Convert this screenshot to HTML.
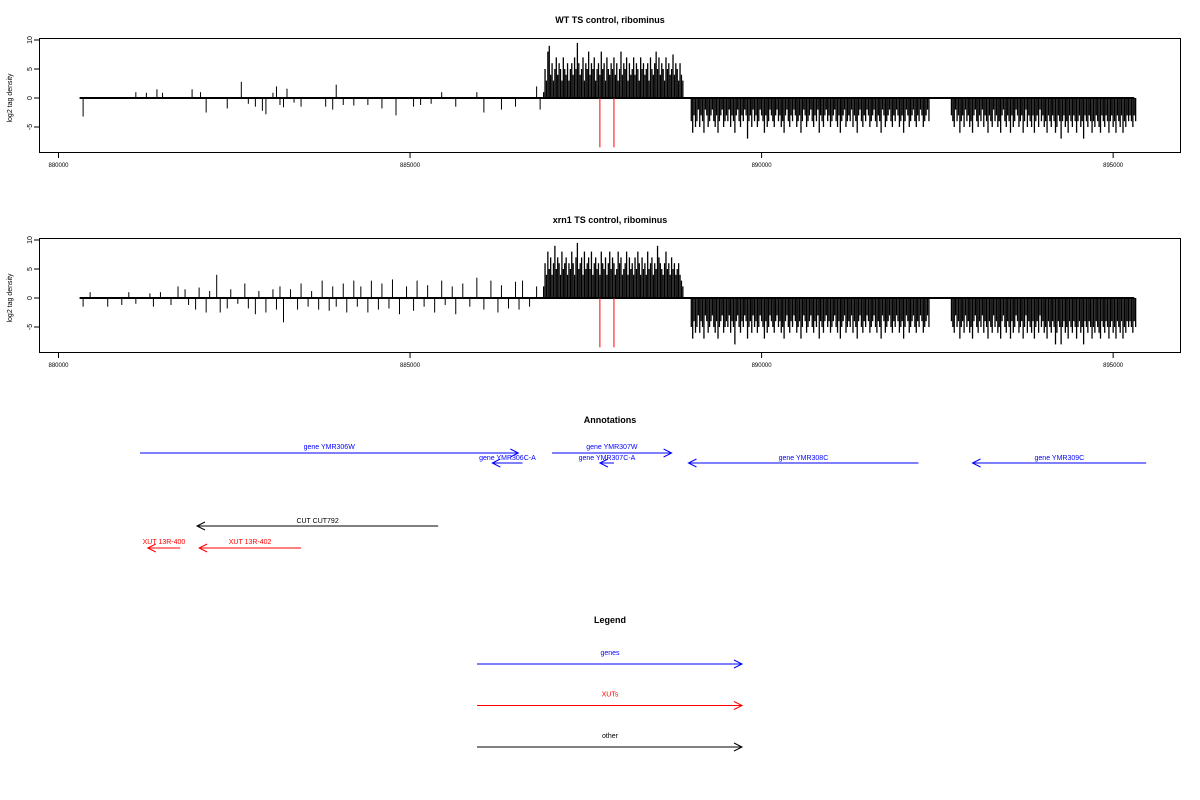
<!DOCTYPE html>
<html><head><meta charset="utf-8"><style>
body{margin:0;background:#fff}
svg{display:block;font-family:"Liberation Sans",sans-serif}
</style></head><body>
<svg id="s" width="1200" height="800" viewBox="0 0 1200 800" xmlns="http://www.w3.org/2000/svg"></svg>
<script>
// ---- data ----
const xTicks=[880000,885000,890000,895000];
const yTicks=[-5,0,5,10];
const dataStart=880300, dataEnd=895300;
const redMarks=[887700,887900];
const redDepth=-8.5;
const binSize=20;
const wtSparse=[[880350,-3.2],[881100,1],[881250,0.9],[881400,1.5],[881480,0.9],[881900,1.5],[882020,1],[882100,-2.5],[882400,-1.8],[882600,2.8],[882700,-1],[882800,-1.5],[882900,-2.2],[882950,-2.8],[883050,0.9],[883100,2],[883150,-1.2],[883200,-1.6],[883250,1.6],[883350,-0.8],[883450,-1.5],[883800,-1.5],[883900,-2],[883950,2.3],[884050,-1.2],[884200,-1.3],[884400,-1.2],[884600,-1.8],[884800,-3],[885050,-1.5],[885150,-1.2],[885300,-1],[885450,1],[885650,-1.5],[885950,1],[886050,-2.5],[886300,-2],[886500,-1.5],[886800,2],[886850,-2]];
const wtPosStart=886900;
const wtPos=[1,5,3,8,9,4,6,3,5,7,4,6,5,3,7,5,4,6,3,5,6,4,7,5,9.5,6,4,5,7,3,6,5,8,4,6,5,7,3,5,6,4,8,5,6,3,7,5,4,6,5,7,4,6,3,5,8,4,6,5,7,3,6,4,5,7,4,6,5,3,7,5,6,4,5,6,3,7,5,4,6,8,5,7,4,6,5,3,7,5,6,4,5,7.5,4,6,5,3,6,4,3];
const wtNeg1Start=889000;
const wtNeg1=[-4,-6,-3,-5,-4,-2,-5,-3,-4,-6,-2,-3,-5,-4,-3,-2,-4,-5,-3,-6,-4,-3,-2,-5,-4,-3,-4,-2,-5,-3,-4,-6,-3,-2,-4,-5,-3,-4,-2,-3,-7,-4,-3,-5,-2,-4,-3,-5,-4,-2,-3,-4,-6,-3,-5,-4,-2,-3,-4,-5,-3,-2,-4,-3,-5,-4,-6,-3,-2,-4,-5,-3,-4,-2,-3,-5,-4,-3,-6,-4,-2,-3,-5,-4,-3,-2,-4,-5,-3,-4,-2,-6,-3,-4,-5,-3,-2,-4,-3,-5,-4,-3,-2,-4,-5,-3,-6,-4,-3,-2,-5,-4,-3,-4,-2,-5,-3,-4,-6,-3,-2,-4,-5,-3,-4,-2,-3,-5,-4,-3,-2,-4,-5,-3,-4,-6,-2,-3,-5,-4,-3,-2,-4,-5,-3,-4,-2,-3,-5,-4,-3,-6,-4,-2,-3,-5,-4,-3,-2,-4,-5,-3,-4,-2,-3,-5,-4,-3,-2,-4];
const wtNeg2Start=892700;
const wtNeg2=[-3,-4,-5,-2,-4,-3,-6,-4,-3,-5,-2,-4,-3,-5,-4,-6,-3,-2,-4,-5,-3,-4,-2,-5,-3,-4,-6,-3,-4,-5,-2,-4,-3,-5,-4,-6,-3,-2,-4,-5,-3,-4,-6,-3,-5,-4,-2,-3,-5,-4,-3,-6,-4,-2,-5,-3,-4,-5,-3,-6,-4,-3,-5,-2,-4,-3,-5,-4,-6,-3,-4,-5,-3,-4,-6,-5,-3,-4,-7,-4,-3,-5,-4,-6,-3,-4,-5,-3,-4,-6,-4,-3,-5,-4,-7,-3,-4,-5,-3,-4,-6,-4,-5,-3,-4,-5,-6,-3,-4,-5,-3,-4,-6,-4,-3,-5,-4,-6,-3,-4,-5,-3,-6,-4,-5,-3,-4,-3,-4,-5,-3,-4];
const xrnSparse=[[880350,-1.5],[880450,1],[880700,-1.5],[880900,-1.2],[881000,1],[881100,-1],[881300,0.8],[881350,-1.5],[881450,1],[881600,-1.2],[881700,2],[881800,1.5],[881850,-1.2],[881950,-2],[882000,1.8],[882100,-2.5],[882150,1.2],[882250,4],[882300,-2.5],[882400,-1.8],[882450,1.5],[882550,-1],[882650,2.5],[882700,-1.8],[882800,-2.8],[882850,1.2],[882950,-2.5],[883050,1.5],[883100,-2],[883150,2],[883200,-4.2],[883300,1.5],[883400,-2],[883450,2.5],[883550,-1.5],[883600,1.2],[883700,-2],[883750,3],[883850,-2.2],[883900,2],[883950,-1.5],[884050,2.5],[884100,-2.5],[884200,3],[884250,-1.5],[884300,2],[884400,-2.5],[884450,3],[884550,-2],[884600,2.5],[884700,-1.8],[884750,3.2],[884850,-2.8],[884950,2],[885050,-2.2],[885100,3],[885200,-1.5],[885250,2.2],[885350,-2.5],[885450,3],[885500,-1.2],[885600,2],[885650,-2.8],[885750,2.5],[885850,-1.5],[885950,3.5],[886050,-2],[886150,3],[886250,-2.5],[886300,2.2],[886400,-1.8],[886500,2.8],[886550,-2],[886600,3],[886700,-1.5],[886800,2]];
const xrnPos=[2,6,4,8,5,7,4,6,9,5,7,6,4,8,5,6,7,4,6,5,8,6,4,7,9.5,5,6,7,4,8,5,6,7,5,8,4,6,7,5,6,4,8,6,5,7,4,6,8,5,7,6,4,5,8,6,7,4,5,6,8,4,7,5,6,4,7,5,8,6,4,7,5,6,4,8,5,6,7,4,6,5,9,7,6,5,4,6,8,5,6,4,7,5,6,4,5,6,4,3,2];
const xrnNeg1=[-5,-7,-4,-6,-5,-3,-6,-4,-5,-7,-3,-4,-6,-5,-4,-3,-5,-6,-4,-7,-5,-4,-3,-6,-5,-4,-5,-3,-6,-4,-5,-8,-4,-3,-5,-6,-4,-5,-3,-4,-7,-5,-4,-6,-3,-5,-4,-6,-5,-3,-4,-5,-7,-4,-6,-5,-3,-4,-5,-6,-4,-3,-5,-4,-6,-5,-7,-4,-3,-5,-6,-4,-5,-3,-4,-6,-5,-4,-7,-5,-3,-4,-6,-5,-4,-3,-5,-6,-4,-5,-3,-7,-4,-5,-6,-4,-3,-5,-4,-6,-5,-4,-3,-5,-6,-4,-7,-5,-4,-3,-6,-5,-4,-5,-3,-6,-4,-5,-7,-4,-3,-5,-6,-4,-5,-3,-4,-6,-5,-4,-3,-5,-6,-4,-5,-7,-3,-4,-6,-5,-4,-3,-5,-6,-4,-5,-3,-4,-6,-5,-4,-7,-5,-3,-4,-6,-5,-4,-3,-5,-6,-4,-5,-3,-4,-6,-5,-4,-3,-5];
const xrnNeg2=[-4,-5,-6,-3,-5,-4,-7,-5,-4,-6,-3,-5,-4,-6,-5,-7,-4,-3,-5,-6,-4,-5,-3,-6,-4,-5,-7,-4,-5,-6,-3,-5,-4,-6,-5,-7,-4,-3,-5,-6,-4,-5,-7,-4,-6,-5,-3,-4,-6,-5,-4,-7,-5,-3,-6,-4,-5,-6,-4,-7,-5,-4,-6,-3,-5,-4,-6,-5,-7,-4,-5,-6,-4,-5,-8,-6,-4,-5,-8,-5,-4,-6,-5,-7,-4,-5,-6,-4,-5,-7,-5,-4,-6,-5,-8,-4,-5,-6,-4,-5,-7,-5,-6,-4,-5,-6,-7,-4,-5,-6,-4,-5,-7,-5,-4,-6,-5,-7,-4,-5,-6,-4,-7,-5,-6,-4,-5,-4,-5,-6,-4,-5];
const annotations=[
 ["gene YMR306W",881160,886540,453,447,"#00f"],
 ["gene YMR306C-A",886600,886170,463,458,"#00f"],
 ["gene YMR307W",887020,888720,453,447,"#00f"],
 ["gene YMR307C-A",887900,887700,463,458,"#00f"],
 ["gene YMR308C",892230,888960,463,458,"#00f"],
 ["gene YMR309C",895470,893000,463,458,"#00f"],
 ["CUT CUT792",885400,881970,526,521,"#000"],
 ["XUT 13R-400",881730,881270,548,542,"#f00"],
 ["XUT 13R-402",883450,882000,548,542,"#f00"]];
const legendItems=[["genes","#00f"],["XUTs","#f00"],["other","#000"]];

// ---- drawing ----
const NS="http://www.w3.org/2000/svg", svg=document.getElementById('s');
function mk(t,a,p){const e=document.createElementNS(NS,t);for(const k in a)e.setAttribute(k,a[k]);(p||svg).appendChild(e);return e;}
const xs=v=>58.5+(v-880000)*0.07031;
function panel(oy,title,sparse,pos,neg1,neg2,name){
  const g=mk('g',{});
  
  
  const ys=v=>oy+98-v*5.8;
  const t=mk('text',{x:610,y:oy+23,'text-anchor':'middle','font-size':9,'font-weight':'bold'},g);t.textContent=title;
  
  const fr=mk('rect',{x:39.5,y:oy+38.5,width:1141,height:114,fill:'none',stroke:'#000','stroke-width':1},g);
  
  xTicks.forEach(v=>{mk('line',{x1:xs(v),x2:xs(v),y1:oy+153,y2:oy+158,stroke:'#000'},g);
    const l=mk('text',{x:xs(v),y:oy+167,'text-anchor':'middle','font-size':6},g);l.textContent=v;
    });
  yTicks.forEach(v=>{mk('line',{x1:34,x2:39.5,y1:ys(v),y2:ys(v),stroke:'#000'},g);
    const l=mk('text',{x:30,y:ys(v),'text-anchor':'middle','font-size':7,transform:`rotate(-90 30 ${ys(v)})`,'dominant-baseline':'middle'},g);l.textContent=v;
    });
  const yl=mk('text',{x:10,y:oy+98,'text-anchor':'middle','font-size':7,transform:`rotate(-90 10 ${oy+98})`,'dominant-baseline':'middle'},g);yl.textContent='log2 tag density';
  
  const bar=(p,v,w)=>{const b=mk('line',{x1:xs(p),x2:xs(p),y1:ys(0),y2:ys(v),stroke:'#000','stroke-width':w},g);
    };
  sparse.forEach(d=>bar(d[0],d[1],1));
  pos.forEach((v,i)=>bar(wtPosStart+i*binSize,v,1.3));
  neg1.forEach((v,i)=>bar(wtNeg1Start+i*binSize,v,1.3));
  neg2.forEach((v,i)=>bar(wtNeg2Start+i*binSize,v,1.3));
  const bl=mk('line',{x1:xs(dataStart),x2:xs(dataEnd),y1:ys(0),y2:ys(0),stroke:'#000','stroke-width':2},g);
  
  redMarks.forEach(p=>{const r=mk('line',{x1:xs(p),x2:xs(p),y1:ys(0),y2:ys(redDepth),stroke:'#f00','stroke-width':1},g);
    });
}
panel(0,'WT TS control, ribominus',wtSparse,wtPos,wtNeg1,wtNeg2,'wt-panel');
panel(200,'xrn1 TS control, ribominus',xrnSparse,xrnPos,xrnNeg1,xrnNeg2,'xrn1-panel');

function arrow(x1,x2,y,c,name){
  const g=mk('g',{});
  
  
  mk('line',{x1,x2,y1:y,y2:y,stroke:c,'stroke-width':1},g);
  const d=x2>x1?-1:1;
  mk('polyline',{points:`${x2+d*8},${y-4} ${x2},${y} ${x2+d*8},${y+4}`,fill:'none',stroke:c},g);
  return g;
}
const at=mk('text',{x:610,y:423,'text-anchor':'middle','font-size':9,'font-weight':'bold'});at.textContent='Annotations';

annotations.forEach(a=>{
  const g=arrow(xs(a[1]),xs(a[2]),a[3],a[5],'annotation-arrow');
  const t=mk('text',{x:(xs(a[1])+xs(a[2]))/2,y:a[4]+2,'text-anchor':'middle','font-size':7,fill:a[5]},g);t.textContent=a[0];
  
});
const lt=mk('text',{x:610,y:623,'text-anchor':'middle','font-size':9,'font-weight':'bold'});lt.textContent='Legend';

legendItems.forEach((it,i)=>{
  const y=664+i*41.5;
  const g=arrow(477,742,y,it[1],'legend-entry');
  const t=mk('text',{x:610,y:y-9,'text-anchor':'middle','font-size':7,fill:it[1]},g);t.textContent=it[0];
  
});
</script>
</body></html>
